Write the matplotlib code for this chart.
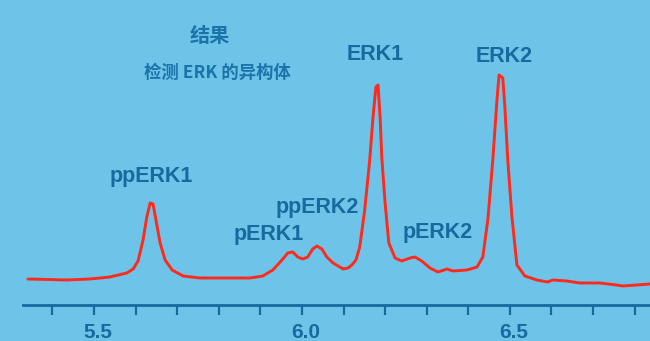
import matplotlib
matplotlib.use('Agg')
import matplotlib.pyplot as plt
import matplotlib.transforms as mtransforms

# ERK isoform separation trace (retention time in min, detector signal)
rt = [5.341, 5.435, 5.490, 5.538, 5.579, 5.594, 5.606, 5.618, 5.627, 5.635,
      5.642, 5.649, 5.659, 5.671, 5.688, 5.714, 5.755, 5.834, 5.875, 5.906,
      5.930, 5.952, 5.966, 5.978, 5.990, 6.002, 6.014, 6.026, 6.036, 6.048,
      6.060, 6.075, 6.099, 6.111, 6.120, 6.130, 6.139, 6.151, 6.163, 6.171,
      6.178, 6.183, 6.188, 6.192, 6.200, 6.209, 6.224, 6.240, 6.260, 6.272,
      6.288, 6.308, 6.327, 6.349, 6.363, 6.397, 6.421, 6.435, 6.447, 6.459,
      6.469, 6.474, 6.483, 6.488, 6.495, 6.505, 6.517, 6.536, 6.565, 6.591,
      6.603, 6.637, 6.668, 6.716, 6.757, 6.772, 6.837]
signal = [26, 25, 26, 28, 32, 36, 44, 65, 88, 102,
          101, 85, 62, 45, 35, 29, 27, 27, 27, 29,
          35, 45, 52, 53, 48, 46, 48, 56, 59, 56,
          48, 42, 36, 37, 40, 45, 58, 95, 145, 188,
          218, 220, 188, 148, 102, 62, 47, 44, 47, 48,
          44, 37, 33, 36, 34, 35, 38, 48, 85, 145,
          205, 230, 227, 198, 145, 88, 40, 29, 25, 23,
          25, 24, 22, 22, 20, 19, 21]

# peak names and where their labels sit (rt, signal at text baseline)
peak_names = ['ppERK1', 'pERK1', 'ppERK2', 'ERK1', 'pERK2', 'ERK2']
label_rt = [5.637, 5.919, 6.036, 6.176, 6.327, 6.486]
label_y = [123, 65, 92, 245, 67, 243]

tick_pos = [5.4, 5.5, 5.6, 5.7, 5.8, 5.9, 6.0, 6.1, 6.2, 6.3, 6.4, 6.5, 6.6, 6.7, 6.8]
tick_text = ['', '5.5', '', '', '', '', '6.0', '', '', '', '', '6.5', '', '', '']

bg = '#6ec4e8'
dark = '#176a9e'

fig = plt.figure(figsize=(6.5, 3.41), dpi=100, facecolor=bg)
ax = fig.add_axes([0, 0, 1, 1], facecolor=bg)

ax.plot(rt, signal, color='#ff2a1c', lw=2.1, solid_joinstyle='round',
        solid_capstyle='round')

for name, x, y in zip(peak_names, label_rt, label_y):
    ax.text(x, y, name, ha='center', va='baseline', fontsize=15.5,
            fontweight='bold', color=dark, family='Liberation Sans')

cjk = ['Noto Sans CJK SC', 'DejaVu Sans']
ax.text(0.323, 0.895, '结果', transform=ax.transAxes, ha='center', va='center',
        fontsize=14.5, fontweight='bold', color='#1a74aa', family=cjk)
ax.text(0.335, 0.786, '检测 ERK 的异构体', transform=ax.transAxes, ha='center',
        va='center', fontsize=12.5, fontweight='bold', color='#1a74aa',
        family=cjk)

ax.set_xlim(5.274, 6.837)
ax.set_ylim(-36, 305)

for s in ['top', 'left', 'right']:
    ax.spines[s].set_visible(False)
ax.spines['bottom'].set_position(('data', 0))
ax.spines['bottom'].set_bounds(5.329, 6.837)
ax.spines['bottom'].set_color(dark)
ax.spines['bottom'].set_linewidth(2.0)

ax.set_yticks([])
ax.set_xticks(tick_pos)
ax.set_xticklabels(tick_text)
ax.tick_params(axis='x', direction='out', length=7, width=1.6, color=dark,
               pad=6, labelsize=15, labelcolor=dark)
offset = mtransforms.ScaledTranslation(4 / 100, 0, fig.dpi_scale_trans)
for lab in ax.get_xticklabels():
    lab.set_fontweight('bold')
    lab.set_family('Liberation Sans')
    lab.set_transform(lab.get_transform() + offset)

fig.savefig('out.png', dpi=100, facecolor=bg)
